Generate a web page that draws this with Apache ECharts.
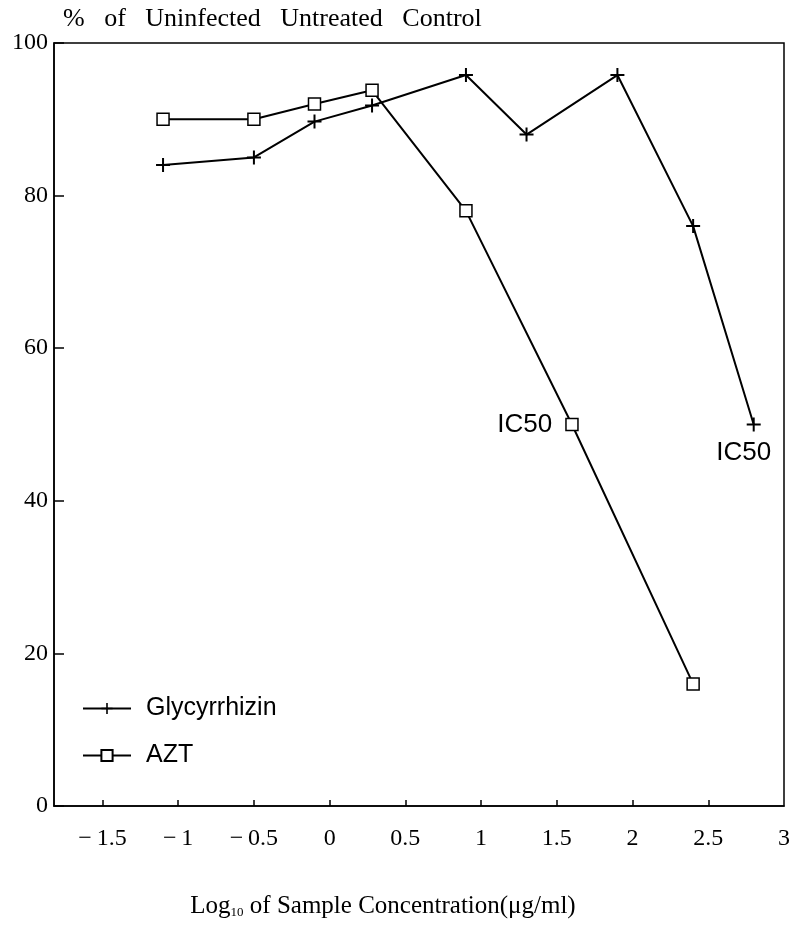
<!DOCTYPE html>
<html>
<head>
<meta charset="utf-8">
<script src="https://cdn.jsdelivr.net/npm/echarts@6/dist/echarts.min.js"></script>
<style>html,body{margin:0;padding:0;background:#fff}#c{width:793px;height:935px}</style>
</head>
<body>
<div id="c"></div>
<script>
// ---- data ----
const glyX = [-1.1, -0.5, -0.1, 0.28, 0.9, 1.3, 1.9, 2.4, 2.8];
const glyY = [84, 85, 89.7, 91.8, 95.8, 88, 95.8, 76, 50];
const glyNotes = ['', '', '', '', '', '', '', '', 'IC50'];
const aztX = [-1.1, -0.5, -0.1, 0.28, 0.9, 1.6, 2.4];
const aztY = [90, 90, 92, 93.8, 78, 50, 16];
const aztNotes = ['', '', '', '', '', 'IC50', ''];
const xTicks = [-1.5, -1, -0.5, 0, 0.5, 1, 1.5, 2, 2.5];
const xLabels = [-1.5, -1, -0.5, 0, 0.5, 1, 1.5, 2, 2.5, 3];
const seriesNames = ['Glycyrrhizin', 'AZT'];
const yTitle = '%   of   Uninfected   Untreated   Control';

const serif = '"Liberation Serif", "DejaVu Serif", serif';
const sans = '"Liberation Sans", Arial, sans-serif';

function build(xs, ys, notes, labelCfg) {
  return xs.map((x, i) => {
    const item = { value: [x, ys[i]] };
    if (notes[i]) {
      item.label = Object.assign({ show: true, formatter: notes[i], color: '#000',
        fontFamily: sans, fontSize: 26 }, labelCfg);
    }
    return item;
  });
}

const chart = echarts.init(document.getElementById('c'), null, { renderer: 'canvas' });
chart.setOption({
  backgroundColor: '#fff',
  animation: false,
  title: {
    text: yTitle, left: 58, top: 1,
    textStyle: { fontFamily: serif, fontSize: 26, fontWeight: 'normal', color: '#000' }
  },
  grid: { left: 54, right: 5, top: 43, bottom: 129, show: true, borderColor: '#000', borderWidth: 1.5 },
  legend: {
    orient: 'vertical', left: 77, top: 691, itemWidth: 48, itemHeight: 14, itemGap: 22,
    data: seriesNames,
    textStyle: { fontFamily: sans, fontSize: 25, color: '#000', padding: [0, 0, 0, 10] }
  },
  xAxis: {
    type: 'value', min: -1.82, max: 3,
    name: '{a|Log}{s|10}{a| of Sample Concentration(μg/ml)}',
    nameLocation: 'middle', nameGap: 88,
    nameTextStyle: {
      padding: [0, 72, 0, 0],
      rich: {
        a: { fontFamily: serif, fontSize: 25, color: '#000' },
        s: { fontFamily: serif, fontSize: 13, color: '#000', verticalAlign: 'bottom', padding: [9, 0, 0, 0] }
      }
    },
    axisLine: { lineStyle: { color: '#000', width: 1.5 } },
    axisTick: { inside: true, length: 6, customValues: xTicks, lineStyle: { color: '#000', width: 1.5 } },
    axisLabel: {
      customValues: xLabels, margin: 21, color: '#000', fontFamily: serif, fontSize: 24,
      formatter: v => (v < 0 ? '\u2212\u2009' + Math.abs(v) : String(v))
    },
    splitLine: { show: false }
  },
  yAxis: {
    type: 'value', min: 0, max: 100, interval: 20,
    axisLine: { show: true, onZero: false, lineStyle: { color: '#000', width: 1.5 } },
    axisTick: { show: true, inside: true, length: 10, lineStyle: { color: '#000', width: 1.5 } },
    axisLabel: { margin: 6, color: '#000', fontFamily: serif, fontSize: 24 },
    splitLine: { show: false }
  },
  series: [
    {
      name: seriesNames[0], type: 'line',
      data: build(glyX, glyY, glyNotes, { position: 'bottom', distance: 8, offset: [-10, 0] }),
      symbol: 'path://M6,0h2v14h-2z M0,6h14v2h-14z', symbolSize: 14,
      itemStyle: { color: '#000' },
      lineStyle: { color: '#000', width: 2 },
      z: 3
    },
    {
      name: seriesNames[1], type: 'line',
      data: build(aztX, aztY, aztNotes, { position: 'left', distance: 13 }),
      symbol: 'rect', symbolSize: 12,
      itemStyle: { color: '#fff', borderColor: '#000', borderWidth: 1.5 },
      lineStyle: { color: '#000', width: 2 },
      z: 2
    }
  ]
});
</script>
</body>
</html>
